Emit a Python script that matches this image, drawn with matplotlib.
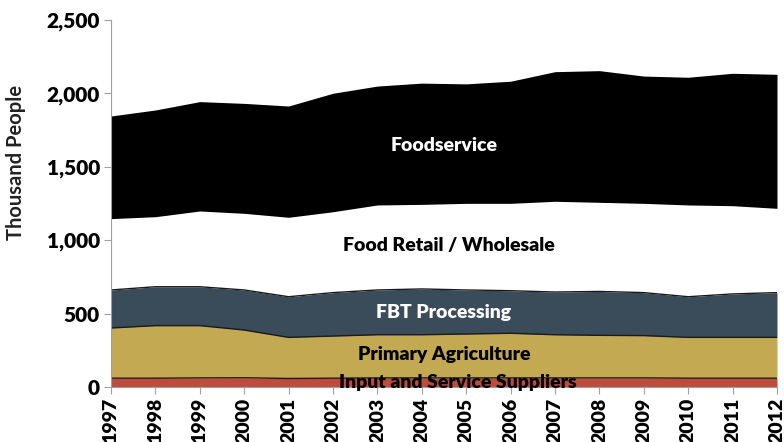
import numpy as np
import matplotlib.pyplot as plt
from matplotlib.patches import Rectangle

# employment by sector, thousand people
years = list(range(1997, 2013))
input_suppliers = [60, 60, 62, 63, 58, 60, 62, 62, 62, 62, 62, 62, 62, 60, 60, 60]
primary_ag_top = [402, 418, 418, 388, 338, 347, 356, 356, 361, 366, 356, 352, 350, 338, 338, 338]
processing_top = [661, 683, 683, 661, 615, 643, 661, 668, 661, 656, 647, 651, 643, 615, 634, 643]
retail_top = [1147, 1160, 1199, 1183, 1156, 1194, 1240, 1244, 1251, 1251, 1265, 1258, 1251, 1240, 1235, 1217]
foodservice_top = [1846, 1887, 1944, 1932, 1914, 2001, 2050, 2070, 2065, 2083, 2148, 2155, 2118, 2110, 2137, 2130]

yticks = [0, 500, 1000, 1500, 2000, 2500]
ytick_labels = ['0', '500', '1,000', '1,500', '2,000', '2,500']

plt.rcParams['font.family'] = ['Lato', 'DejaVu Sans']
plt.rcParams['font.weight'] = 'bold'
W = 'heavy'

fig = plt.figure(figsize=(7.84, 4.42), dpi=100)
ax = fig.add_axes([111/784, 1 - 387/442, 666/784, 367/442])

x = np.array(years)
base = np.zeros(len(years))
bands = [
    (base, input_suppliers, '#BE4B3C'),
    (input_suppliers, primary_ag_top, '#C3A952'),
    (primary_ag_top, processing_top, '#3A4B5A'),
    (processing_top, retail_top, 'white'),
    (retail_top, foodservice_top, 'black'),
]
for lo, hi, col in bands:
    ax.fill_between(x, lo, hi, color=col, linewidth=0)

# thin outlines between the lower layers
for edge in (input_suppliers, primary_ag_top, processing_top):
    ax.plot(x, edge, color='#1a1a1a', linewidth=1.0)

ax.set_xlim(1997, 2012)
ax.set_ylim(0, 2500)
ax.set_xticks(years)
ax.set_xticklabels([str(y) for y in years], rotation=90, fontsize=14, fontweight=W)
ax.set_yticks(yticks)
ax.set_yticklabels(ytick_labels, fontsize=15, fontweight=W)
ax.tick_params(axis='both', length=5, color='#a0a0a0', pad=3)
for side in ('top', 'right'):
    ax.spines[side].set_visible(False)
for side in ('left', 'bottom'):
    ax.spines[side].set_color('#a0a0a0')
ax.set_ylabel('Thousand People', fontsize=14.5, fontweight='bold', color='#222222')
ax.yaxis.set_label_coords(-0.127, 0.613)

fs = 14
ax.text(2004.5, 1648, 'Foodservice', color='white', ha='center', va='center', fontsize=fs, fontweight=W)
ax.text(2004.6, 967, 'Food Retail / Wholesale', color='black', ha='center', va='center', fontsize=fs, fontweight=W)
ax.text(2004.5, 506, 'FBT Processing', color='white', ha='center', va='center', fontsize=fs, fontweight=W)
pa = ax.text(2004.5, 218, 'Primary Agriculture', color='black', ha='center', va='center', fontsize=fs, fontweight=W)
clip = Rectangle((1997, 172), 15, 400, transform=ax.transData)
pa.set_clip_path(clip)
ax.text(2004.8, 30, 'Input and Service Suppliers', color='black', ha='center', va='center', fontsize=fs, fontweight=W)

fig.savefig('out.png', dpi=100)
